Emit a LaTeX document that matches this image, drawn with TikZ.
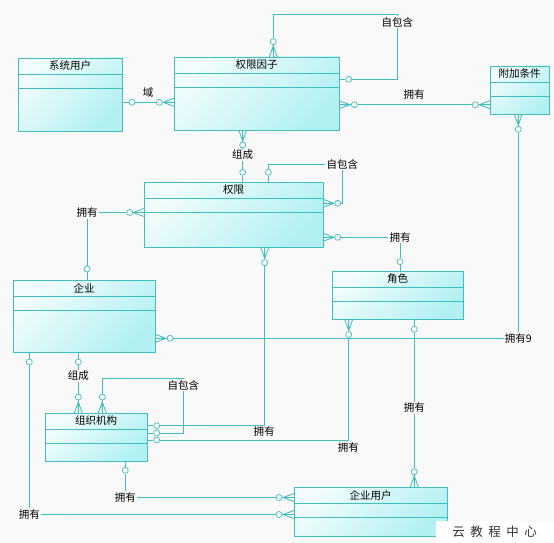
\documentclass[tikz,border=0pt]{standalone}
\usepackage{fontspec}
\setmainfont{Noto Sans CJK SC}
\definecolor{bgcol}{RGB}{249,249,249}
\definecolor{edgecol}{RGB}{64,190,192}
\definecolor{boxlight}{RGB}{242,252,252}
\definecolor{boxdark}{RGB}{178,240,242}
\tikzset{
  entity/.style={draw=edgecol, line width=0.9pt, top color=boxlight, bottom color=boxdark,
    shading angle=45, anchor=north west, inner sep=0pt, outer sep=0pt},
  link/.style={draw=edgecol, line width=0.85pt},
  ring/.style={circle, draw=edgecol, fill=bgcol, line width=0.7pt, inner sep=0pt, minimum size=6pt},
  lab/.style={font=\fontsize{10.5}{12}\selectfont, inner sep=1pt, text=black},
  crow/.pic={\draw[link] (0,-4) -- (11,0) -- (0,4) (0,0) -- (11,0);}
}
\begin{document}
\begin{tikzpicture}[x=1pt,y=-1pt]
	\useasboundingbox (0,0) rectangle (554,543);
	\fill[bgcol] (0,0) rectangle (554,543);
	% entities
	\foreach \n/\x/\y/\w/\h/\t in {sysuser/18/58/104/73/系统用户, factor/174/57/165/73/权限因子,
		cond/490/66/59/48/附加条件, perm/144/182/179/65.5/权限, corp/13/280/142/72/企业,
		role/332/271/131/48.5/角色, org/45/413/102/48.5/组织机构, corpuser/294/487/153/49/企业用户}{
		\node[entity, minimum width=\w pt, minimum height=\h pt] (\n) at (\x,\y) {};
		\draw[edgecol, line width=0.8pt] ([yshift=-16.5pt]\n.north west) -- ([yshift=-16.5pt]\n.north east)
			([yshift=-30.3pt]\n.north west) -- ([yshift=-30.3pt]\n.north east);
		\node[lab] (\n-t) at ([yshift=-8pt]\n.north) {\t};
	}
	% 域
	\node[ring] (a1) at (132,102.3) {};
	\node[ring] (a2) at (159.3,102.3) {};
	\node[lab] (la) at (148,92.3) {域};
	\draw[link] (sysuser.east |- a1) -- (a1) -- (a2) -- (factor.west |- a2);
	\pic[rotate=180] at (factor.west |- a2) {crow};
	% 自包含 (权限因子)
	\node[ring] (b1) at (273.3,41.7) {};
	\node[ring] (b2) at (348.7,79.3) {};
	\coordinate (b3) at (397.3,14);
	\node[lab] (lb) at (397.3,22) {自包含};
	\draw[link] (factor.north -| b1) -- (b1) |- (b3) -- (lb) -- (lb |- b2) -- (b2) -- (factor.east |- b2);
	\pic[rotate=90] at (factor.north -| b1) {crow};
	% 拥有 (权限因子-附加条件)
	\node[ring] (c1) at (354.3,104.7) {};
	\node[ring] (c2) at (475.3,104.7) {};
	\node[lab] (lc) at (414,94.7) {拥有};
	\draw[link] (factor.east |- c1) -- (c1) -- (c2) -- (cond.west |- c2);
	\pic at (factor.east |- c1) {crow};
	\pic[rotate=180] at (cond.west |- c2) {crow};
	% 组成 (权限因子-权限)
	\node[ring] (d1) at (242.7,145) {};
	\node[lab] (ld) at (242.7,154.5) {组成};
	\node[ring] (d2) at (242.7,172.3) {};
	\draw[link] (factor.south -| d1) -- (d1) -- (ld) -- (d2) -- (perm.north -| d2);
	\pic[rotate=-90] at (factor.south -| d1) {crow};
	% 自包含 (权限)
	\node[ring] (e1) at (268.3,172.3) {};
	\node[ring] (e2) at (337.7,203.3) {};
	\node[lab] (le) at (342.3,164) {自包含};
	\draw[link] (perm.north -| e1) -- (e1) |- (le) -- (le |- e2) -- (e2) -- (perm.east |- e2);
	\pic at (perm.east |- e2) {crow};
	% 拥有 (权限-企业)
	\node[ring] (f1) at (129.7,212.5) {};
	\node[lab] (lf) at (87,212.5) {拥有};
	\node[ring] (f2) at (87,269) {};
	\draw[link] (perm.west |- f1) -- (f1) -- (lf) -- (f2) -- (corp.north -| f2);
	\pic[rotate=180] at (perm.west |- f1) {crow};
	% 拥有 (权限-角色)
	\node[ring] (g1) at (337.7,237.3) {};
	\node[lab] (lg) at (400,237.3) {拥有};
	\node[ring] (g2) at (400,261.7) {};
	\draw[link] (perm.east |- g1) -- (g1) -- (lg) -- (g2) -- (role.north -| g2);
	\pic at (perm.east |- g1) {crow};
	% 拥有 (权限-组织机构)
	\node[ring] (h1) at (264.7,262.7) {};
	\node[ring] (h2) at (156.7,425.7) {};
	\node[lab] (lh) at (264,432) {拥有};
	\draw[link] (perm.south -| h1) -- (h1) |- (h2) -- (org.east |- h2);
	\pic[rotate=-90] at (perm.south -| h1) {crow};
	% 自包含 (组织机构)
	\node[ring] (i1) at (102.3,397) {};
	\coordinate (i3) at (183.3,378.3);
	\node[lab] (li) at (183.3,385) {自包含};
	\node[ring] (i2) at (156.7,433) {};
	\draw[link] (org.north -| i1) -- (i1) |- (i3) -- (li) -- (li |- i2) -- (i2) -- (org.east |- i2);
	\pic[rotate=90] at (org.north -| i1) {crow};
	% 拥有9 (企业-附加条件)
	\node[ring] (k1) at (170,338.3) {};
	\node[lab] (lk) at (518.3,338.3) {拥有9};
	\node[ring] (k2) at (518.3,129.3) {};
	\draw[link] (corp.east |- k1) -- (k1) -- (lk) -- (k2) -- (cond.south -| k2);
	\pic at (corp.east |- k1) {crow};
	\pic[rotate=-90] at (cond.south -| k2) {crow};
	% 拥有 (组织机构-角色)
	\node[ring] (j1) at (156.7,440) {};
	\node[ring] (j2) at (348.7,334.5) {};
	\node[lab] (lj) at (348.3,447.5) {拥有};
	\draw[link] (org.east |- j1) -- (j1) -| (j2) -- (role.south -| j2);
	\pic[rotate=-90] at (role.south -| j2) {crow};
	% 拥有 (角色-企业用户)
	\node[ring] (l1) at (414.3,329.3) {};
	\node[lab] (ll) at (414.3,407.7) {拥有};
	\node[ring] (l2) at (414.3,471.7) {};
	\draw[link] (role.south -| l1) -- (l1) -- (ll) -- (l2) -- (corpuser.north -| l2);
	\pic[rotate=90] at (corpuser.north -| l2) {crow};
	% 组成 (企业-组织机构)
	\node[ring] (m1) at (78.3,362) {};
	\node[lab] (lm) at (78.3,376) {组成};
	\node[ring] (m2) at (78.3,397) {};
	\draw[link] (corp.south -| m1) -- (m1) -- (lm) -- (m2) -- (org.north -| m2);
	\pic[rotate=90] at (org.north -| m2) {crow};
	% 拥有 (组织机构-企业用户)
	\node[ring] (n1) at (125.3,470.3) {};
	\node[lab] (ln) at (125.3,497.5) {拥有};
	\node[ring] (n2) at (279,497.5) {};
	\draw[link] (org.south -| n1) -- (n1) -- (ln) -- (n2) -- (corpuser.west |- n2);
	\pic[rotate=180] at (corpuser.west |- n2) {crow};
	% 拥有 (企业-企业用户)
	\node[ring] (o1) at (29.3,362) {};
	\node[lab] (lo) at (29.3,514.5) {拥有};
	\node[ring] (o2) at (279,514.5) {};
	\draw[link] (corp.south -| o1) -- (o1) -- (lo) -- (o2) -- (corpuser.west |- o2);
	\pic[rotate=180] at (corpuser.west |- o2) {crow};
	% watermark
	\node[fill=white, anchor=north west, minimum width=118pt, minimum height=23pt, inner sep=0pt] (wm) at (436,520.7) {};
	\node[font=\fontsize{12.5}{14}\selectfont, text=black!80] (wmt) at (494.7,532) {云\hspace{5.5pt}教\hspace{5.5pt}程\hspace{5.5pt}中\hspace{5.5pt}心};
\end{tikzpicture}
\end{document}
